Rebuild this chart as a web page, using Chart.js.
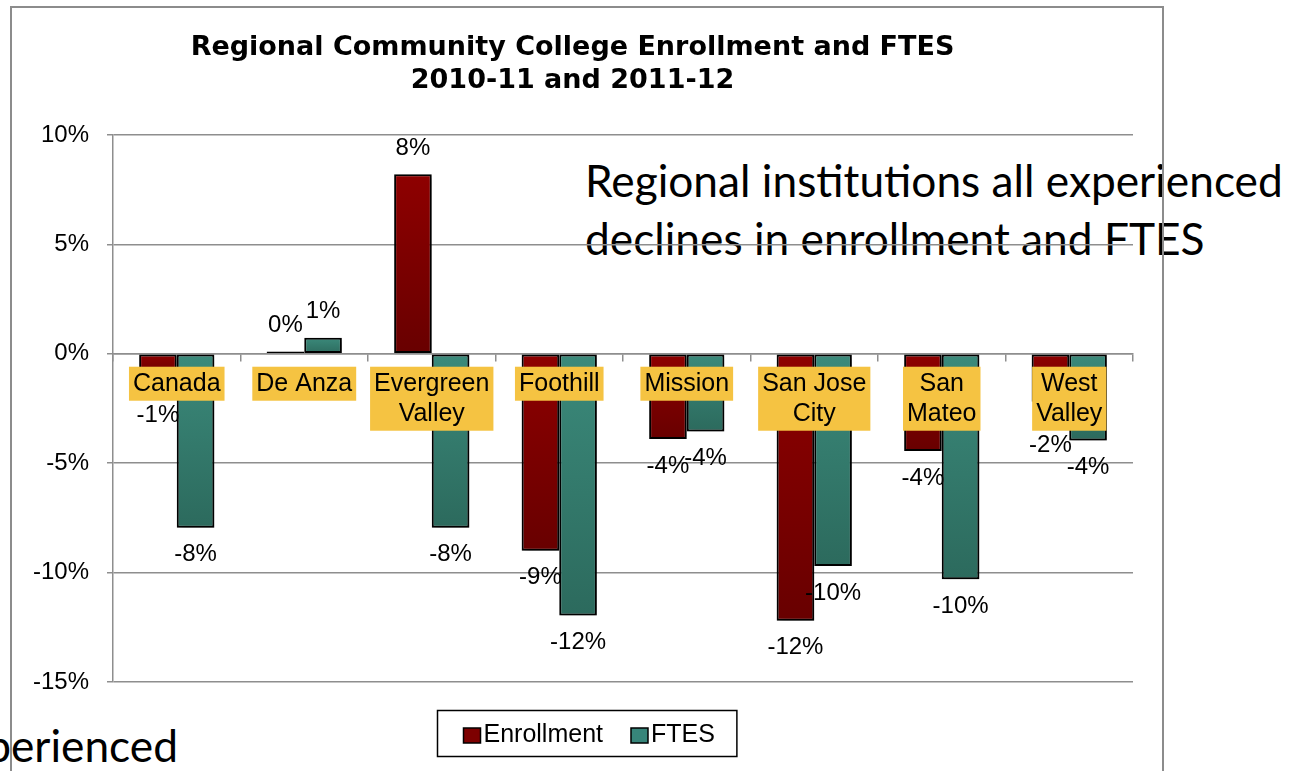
<!DOCTYPE html>
<html>
<head>
<meta charset="utf-8">
<script src="https://cdn.jsdelivr.net/npm/chart.js@4.4.1/dist/chart.umd.min.js"></script>
<style>
  html, body { margin: 0; padding: 0; background: #fff; overflow: hidden; }
  body { width: 1292px; height: 771px; position: relative; }
  .note { position: absolute; font-family: Lato, 'Open Sans', sans-serif; font-size: 44px; line-height: 58px; color: #000; white-space: nowrap; z-index: 0; }
  #wrap { position: absolute; left: 12px; top: 8px; width: 1150px; height: 763px; z-index: 1; }
  .frame { position: absolute; background: #8c8c8c; z-index: 2; }
</style>
</head>
<body>
<div class="note" id="note1" style="left:585px; top:151px;"><span id="fitLine">Regional institutions all experienced</span><br>declines in enrollment and FTES</div>
<div class="note" id="note2" style="right:1114px; top:716px;">Regional institutions all experienced</div>
<div id="wrap"><canvas id="myChart"></canvas></div>
<div class="frame" style="left:10px; top:6px; width:1154px; height:2px;"></div>
<div class="frame" style="left:10px; top:6px; width:2px; height:765px;"></div>
<div class="frame" style="left:1162px; top:6px; width:2px; height:765px;"></div>
<script>
const categories = ['Canada', 'De Anza', ['Evergreen', 'Valley'], 'Foothill', 'Mission', ['San Jose', 'City'], ['San', 'Mateo'], ['West', 'Valley']];
const enrollment = [-1.0, 0.1, 8.2, -9.0, -3.9, -12.2, -4.45, -2.2];
const ftes = [-7.95, 0.73, -7.95, -11.96, -3.55, -9.7, -10.3, -3.97];
const yMin = -15;
const yMax = 10;
const yStep = 5;
const titleLines = ['Regional Community College Enrollment and FTES', '2010-11 and 2011-12'];

// size the note text so its first line spans the same width as in the slide
const fitLine = document.getElementById('fitLine');
const noteSize = 44 * 698 / fitLine.getBoundingClientRect().width;
document.querySelectorAll('.note').forEach(n => { n.style.fontSize = noteSize + 'px'; });

function barFill(top, bottom) {
    return function (c) {
        const chart = c.chart;
        if (c.type !== 'data' || !chart.scales.y) return top;
        const y = chart.scales.y;
        const y0 = y.getPixelForValue(0);
        const y1 = y.getPixelForValue(c.raw);
        if (!Number.isFinite(y0) || !Number.isFinite(y1)) return top;
        const g = chart.ctx.createLinearGradient(0, Math.min(y0, y1), 0, Math.max(y0, y1) + 0.5);
        g.addColorStop(0, top);
        g.addColorStop(1, bottom);
        return g;
    };
}

const barShadow = {
    id: 'barShadow',
    beforeDatasetsDraw(chart) {
        const c = chart.ctx;
        c.save();
        c.shadowColor = 'rgba(0,0,0,0.35)';
        c.shadowBlur = 5;
        c.shadowOffsetX = 2;
        c.shadowOffsetY = 3;
    },
    afterDatasetsDraw(chart) {
        chart.ctx.restore();
    }
};

// yellow category boxes sitting just under the zero line
const lineH = 30;
const categoryBoxes = {
    id: 'categoryBoxes',
    afterDatasetsDraw(chart) {
        const ctx = chart.ctx;
        const x = chart.scales.x;
        const zero = chart.scales.y.getPixelForValue(0);
        ctx.save();
        ctx.font = '25px "Liberation Sans"';
        ctx.textAlign = 'center';
        ctx.textBaseline = 'middle';
        chart.data.labels.forEach((lab, i) => {
            const lines = Array.isArray(lab) ? lab : [lab];
            const w = Math.max(...lines.map(t => ctx.measureText(t).width));
            const cx = x.getPixelForValue(i);
            const top = zero + 13;
            ctx.fillStyle = '#f5c342';
            ctx.fillRect(cx - w / 2 - 4, top, w + 8, lines.length * lineH + 4);
            ctx.fillStyle = '#000';
            lines.forEach((t, k) => ctx.fillText(t, cx, top + 2 + lineH / 2 + k * lineH));
        });
        ctx.restore();
    }
};

const valueLabels = {
    id: 'valueLabels',
    afterDraw(chart) {
        const ctx = chart.ctx;
        const zero = chart.scales.y.getPixelForValue(0);
        ctx.save();
        ctx.font = '24px "Liberation Sans"';
        ctx.fillStyle = '#000';
        ctx.textAlign = 'center';
        ctx.textBaseline = 'middle';
        chart.data.datasets.forEach((ds, di) => {
            chart.getDatasetMeta(di).data.forEach((bar, i) => {
                const v = ds.data[i];
                const lab = chart.data.labels[i];
                const n = Array.isArray(lab) ? lab.length : 1;
                const boxBottom = zero + 13 + n * lineH + 4;
                const ly = v >= 0 ? bar.y - 26 : Math.max(bar.y + 27, boxBottom + 15);
                ctx.fillText(Math.round(v) + '%', bar.x, ly);
            });
        });
        ctx.restore();
    }
};

const legendBox = {
    id: 'legendBox',
    afterDraw(chart) {
        const ctx = chart.ctx;
        ctx.save();
        ctx.font = '25px "Liberation Sans"';
        const items = chart.data.datasets.map(ds => ({ text: ds.label, color: ds.legendColor, w: ctx.measureText(ds.label).width }));
        const box = 17, gap = 3, spacing = 28, padL = 26, padR = 22;
        let total = padL + padR + spacing * (items.length - 1);
        items.forEach(it => { total += box + gap + it.w; });
        const left = Math.round(chart.width / 2 - total / 2) + 0.5;
        const top = chart.chartArea.bottom + 28.5;
        const h = 46;
        ctx.strokeStyle = '#000';
        ctx.lineWidth = 1.5;
        ctx.strokeRect(left, top, total, h);
        let px = left + padL;
        const cy = top + h / 2 + 2;
        ctx.textBaseline = 'middle';
        ctx.textAlign = 'left';
        items.forEach(it => {
            ctx.fillStyle = it.color;
            ctx.fillRect(px, cy - 7.5, box, 15);
            ctx.lineWidth = 1.5;
            ctx.strokeRect(px, cy - 7.5, box, 15);
            ctx.fillStyle = '#000';
            ctx.fillText(it.text, px + box + gap, cy);
            px += box + gap + it.w + spacing;
        });
        ctx.restore();
    }
};

const data = {
    labels: categories,
    datasets: [{
        label: 'Enrollment',
        data: enrollment,
        backgroundColor: barFill('#8e0000', '#680000'),
        legendColor: '#7d0000',
        borderColor: '#000',
        borderWidth: 2,
        borderSkipped: false
    }, {
        label: 'FTES',
        data: ftes,
        backgroundColor: barFill('#3b8a7b', '#2c6a5d'),
        legendColor: '#37857a',
        borderColor: '#000',
        borderWidth: 2,
        borderSkipped: false
    }]
};

const config = {
    type: 'bar',
    data: data,
    plugins: [barShadow, categoryBoxes, valueLabels, legendBox],
    options: {
        animation: false,
        responsive: true,
        maintainAspectRatio: false,
        datasets: { bar: { categoryPercentage: 0.59, barPercentage: 1.0 } },
        layout: { padding: { top: 0, right: 29, bottom: 89, left: 0 } },
        plugins: {
            legend: { display: false },
            tooltip: { enabled: false },
            title: {
                display: true,
                text: titleLines,
                color: '#000',
                font: { family: 'DejaVu Sans', size: 27, weight: 'bold', lineHeight: 1.22 },
                padding: { top: 24, bottom: 37 }
            }
        },
        scales: {
            x: {
                position: { y: 0 },
                grid: { display: true, drawOnChartArea: false, drawTicks: true, tickLength: 7, color: '#8e8e8e', lineWidth: 1.5, offset: true },
                border: { display: true, color: '#8e8e8e', width: 1.5 },
                ticks: { display: false }
            },
            y: {
                min: yMin,
                max: yMax,
                ticks: {
                    stepSize: yStep,
                    callback: v => v + '%',
                    color: '#000',
                    font: { family: 'Liberation Sans', size: 24 },
                    padding: 18
                },
                grid: { color: '#8e8e8e', lineWidth: 1.5, tickLength: 6 },
                border: { color: '#8e8e8e', width: 1.5 },
                afterFit: s => { s.width = 101; }
            }
        }
    }
};

const myChart = new Chart(document.getElementById('myChart'), config);
</script>
</body>
</html>
